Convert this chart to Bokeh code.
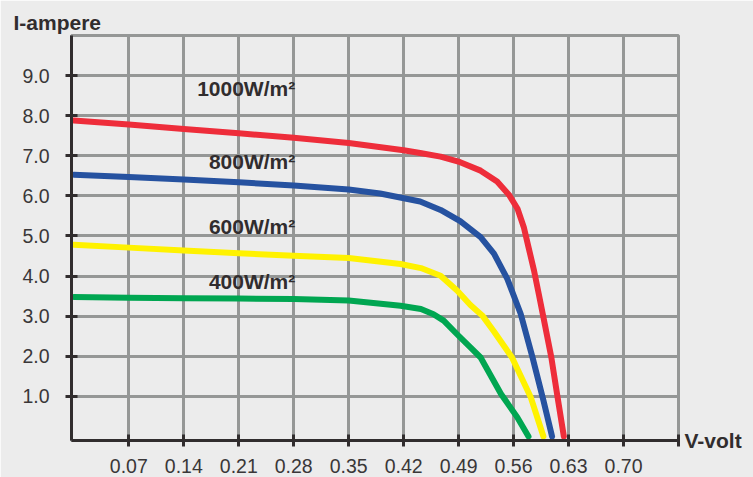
from bokeh.plotting import figure
from bokeh.models import (Range1d, LinearAxis, FixedTicker, Grid, LabelSet,
                          ColumnDataSource)
from bokeh.embed import file_html
from bokeh.resources import INLINE
from bokeh.core.properties import value

# ---------------- data ----------------
v_1000 = [0, 0.07, 0.14, 0.21, 0.28, 0.35, 0.42, 0.441, 0.467, 0.492, 0.518,
          0.539, 0.554, 0.565, 0.573, 0.579, 0.586, 0.592, 0.598, 0.608,
          0.616, 0.624]
i_1000 = [7.88, 7.78, 7.67, 7.56, 7.45, 7.32, 7.14, 7.07, 6.98, 6.84, 6.63,
          6.36, 6.03, 5.68, 5.22, 4.72, 4.14, 3.56, 2.97, 1.98, 0.98, 0.0]

v_800 = [0, 0.07, 0.14, 0.21, 0.28, 0.35, 0.39, 0.441, 0.467, 0.492, 0.518,
         0.535, 0.552, 0.569, 0.584, 0.598, 0.609]
i_800 = [6.53, 6.47, 6.41, 6.34, 6.26, 6.16, 6.06, 5.86, 5.65, 5.37, 4.97,
         4.56, 3.93, 3.06, 1.98, 0.90, 0.0]

v_600 = [0, 0.07, 0.14, 0.21, 0.28, 0.35, 0.416, 0.442, 0.467, 0.488, 0.505,
         0.52, 0.535, 0.558, 0.582, 0.598]
i_600 = [4.78, 4.71, 4.64, 4.57, 4.51, 4.45, 4.30, 4.20, 4.01, 3.64, 3.28,
         3.02, 2.62, 1.97, 0.97, 0.0]

v_400 = [0, 0.07, 0.14, 0.21, 0.28, 0.35, 0.416, 0.442, 0.458, 0.471, 0.488,
         0.505, 0.518, 0.544, 0.565, 0.579]
i_400 = [3.48, 3.46, 3.45, 3.44, 3.43, 3.39, 3.26, 3.18, 3.05, 2.89, 2.55,
         2.22, 1.97, 1.06, 0.47, 0.0]

x_ticks = [0.07, 0.14, 0.21, 0.28, 0.35, 0.42, 0.49, 0.56, 0.63, 0.70]
x_tick_labels = ["0.07", "0.14", "0.21", "0.28", "0.35", "0.42", "0.49",
                 "0.56", "0.63", "0.70"]
x_axis_end = 0.77
y_ticks = [1, 2, 3, 4, 5, 6, 7, 8, 9]
y_tick_labels = ["1.0", "2.0", "3.0", "4.0", "5.0", "6.0", "7.0", "8.0", "9.0"]
y_axis_bottom = -0.1
y_axis_top = 10.0

curve_names = ["1000W/m\u00b2", "800W/m\u00b2", "600W/m\u00b2", "400W/m\u00b2"]
name_v = [0.157, 0.172, 0.172, 0.172]
name_i = [8.49, 6.67, 5.05, 3.69]

y_title = "I-ampere"
x_title = "V-volt"

# ---------------- styling ----------------
BG = "#ececec"
GRID = "#959796"
DARK = "#312d2e"
LABEL = "#3a3738"
FONT = "Liberation Sans"
colors = ["#ee2d3a", "#2652a0", "#fff200", "#00a651"]

p = figure(frame_width=607, frame_height=405,
           min_border_left=71, min_border_right=75,
           min_border_top=35, min_border_bottom=37,
           x_range=Range1d(-0.003, x_axis_end),
           y_range=Range1d(y_axis_bottom, y_axis_top),
           x_axis_type=None, y_axis_type=None,
           output_backend="svg", toolbar_location=None)
p.background_fill_color = BG
p.border_fill_color = BG
p.outline_line_color = GRID
p.outline_line_width = 3

p.title.text = y_title
p.title.align = "left"
p.title.offset = -58
p.title.standoff = 3
p.title.text_font = FONT
p.title.text_font_size = "21px"
p.title.text_font_style = "bold"
p.title.text_color = DARK

p.add_layout(Grid(dimension=0, ticker=FixedTicker(ticks=x_ticks),
                  grid_line_color=GRID, grid_line_width=3))
p.add_layout(Grid(dimension=1, ticker=FixedTicker(ticks=y_ticks),
                  grid_line_color=GRID, grid_line_width=3))

for v, i, c in zip([v_1000, v_800, v_600, v_400],
                   [i_1000, i_800, i_600, i_400], colors):
    p.line(v, i, line_color=c, line_width=6, line_cap="round",
           line_join="round")

axis_style = dict(axis_line_color=DARK, axis_line_width=3,
                  major_tick_line_color=DARK, major_tick_line_width=3,
                  major_tick_in=6, major_tick_out=6,
                  minor_tick_line_color=DARK, minor_tick_line_width=3,
                  minor_tick_in=6, minor_tick_out=6,
                  major_label_text_font=FONT,
                  major_label_text_font_size="19.5px",
                  major_label_text_color=LABEL)
xaxis = LinearAxis(ticker=FixedTicker(ticks=x_ticks, minor_ticks=[x_axis_end]),
                   major_label_overrides=dict(zip(x_ticks, x_tick_labels)),
                   major_label_standoff=12, **axis_style)
yaxis = LinearAxis(ticker=FixedTicker(ticks=y_ticks, minor_ticks=[]),
                   major_label_overrides=dict(zip(y_ticks, y_tick_labels)),
                   major_label_standoff=16, **axis_style)
p.add_layout(xaxis, "below")
p.add_layout(yaxis, "left")

# "V-volt" drawn as the single label of a bare right-hand axis at the x-axis level
vaxis = LinearAxis(ticker=FixedTicker(ticks=[y_axis_bottom], minor_ticks=[]),
                   major_label_overrides={y_axis_bottom: x_title},
                   axis_line_color=None, major_tick_line_color=None,
                   minor_tick_line_color=None, major_tick_in=0, major_tick_out=0,
                   major_label_standoff=6, major_label_text_font=FONT,
                   major_label_text_font_size="21px",
                   major_label_text_font_style="bold",
                   major_label_text_color=DARK)
p.add_layout(vaxis, "right")

# curve names
nm_src = ColumnDataSource(dict(x=name_v, y=name_i, t=curve_names))
p.add_layout(LabelSet(x="x", y="y", text="t", source=nm_src,
                      text_align="left", text_baseline="alphabetic",
                      text_font=value(FONT), text_font_size="21px",
                      text_font_style="bold", text_color=DARK))

open("out.html", "w").write(file_html(p, INLINE))
